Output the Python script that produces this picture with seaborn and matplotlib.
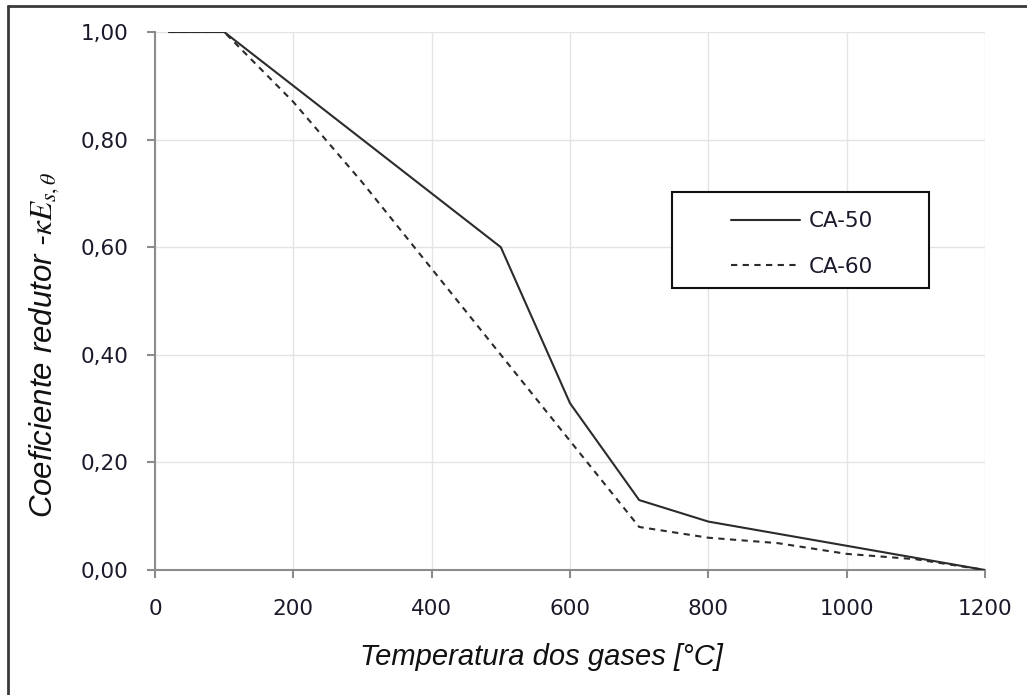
import matplotlib
matplotlib.use("Agg")
import matplotlib.pyplot as plt
import seaborn as sns
import pandas as pd
from matplotlib.lines import Line2D
from matplotlib.patches import Rectangle

# Reduction factor of the modulus of elasticity of reinforcing steel vs temperature
temperatura = [20, 100, 200, 300, 400, 500, 600, 700, 800, 900, 1000, 1100, 1200]
ca50 = [1.00, 1.00, 0.90, 0.80, 0.70, 0.60, 0.31, 0.13, 0.09, 0.0675, 0.045, 0.0225, 0.00]
ca60 = [1.00, 1.00, 0.87, 0.72, 0.56, 0.40, 0.24, 0.08, 0.06, 0.05, 0.03, 0.02, 0.00]
series_names = ["CA-50", "CA-60"]

x_ticks = [0, 200, 400, 600, 800, 1000, 1200]
y_ticks = [0.0, 0.2, 0.4, 0.6, 0.8, 1.0]
y_tick_labels = ["0,00", "0,20", "0,40", "0,60", "0,80", "1,00"]

df = pd.DataFrame({
    "Temperatura": temperatura * 2,
    "Coeficiente": ca50 + ca60,
    "Aço": [series_names[0]] * len(temperatura) + [series_names[1]] * len(temperatura),
})

sns.set_style("white")
plt.rcParams["font.family"] = ["DejaVu Sans"]
plt.rcParams["mathtext.fontset"] = "stix"

W, H = 1027, 695
fig = plt.figure(figsize=(W / 100, H / 100), dpi=100)
ax = fig.add_axes([155 / W, 1 - 570 / H, (985 - 155) / W, (570 - 32) / H])

line_color = "#2b2b2b"
dash = (3, 2.6)
sns.lineplot(data=df, x="Temperatura", y="Coeficiente", style="Aço",
             dashes={"CA-50": "", "CA-60": dash}, color=line_color,
             linewidth=1.5, ax=ax, legend=False)

ax.set_xlim(0, 1200)
ax.set_ylim(0, 1.0)
ax.set_xticks(x_ticks)
ax.set_xticklabels([str(t) for t in x_ticks])
ax.set_yticks(y_ticks)
ax.set_yticklabels(y_tick_labels)

ax.grid(True, color="#e4e4e4", linewidth=1.0)
ax.set_axisbelow(True)
for side in ["top", "right"]:
    ax.spines[side].set_visible(False)
for side in ["left", "bottom"]:
    ax.spines[side].set_color("#8c8c8c")
    ax.spines[side].set_linewidth(1.5)
    ax.spines[side].set_zorder(1.5)

ax.tick_params(axis="both", which="major", bottom=True, left=True, direction="out",
               length=6, width=1.5, color="#8c8c8c", labelcolor="#1a1a2a",
               labelsize=15.5)
ax.tick_params(axis="y", pad=13)
ax.tick_params(axis="x", pad=15)

ax.set_xlabel("Temperatura dos gases [°C]", family="Liberation Sans", style="italic",
              fontsize=21, color="#111111")
ax.xaxis.set_label_coords((541 - 155) / 830, -(657 - 570) / 538, transform=ax.transAxes)
ax.xaxis.label.set_va("center")
ax.set_ylabel(r"Coeficiente redutor -$\kappa E_{s,\theta}$", family="Liberation Sans",
              style="italic", fontsize=22.5, color="#111111")
ax.yaxis.set_label_coords(-(155 - 44) / 830, (570 - 345) / 538, transform=ax.transAxes)
ax.yaxis.label.set_va("center")

# legend box
bx0 = (672 - 155) / 830
by0 = (570 - 288) / 538
bw = (929 - 672) / 830
bh = (288 - 192) / 538
ax.add_patch(Rectangle((bx0, by0), bw, bh, transform=ax.transAxes, facecolor="white",
                       edgecolor="#111111", linewidth=1.5, zorder=5))
handles = [Line2D([], [], color=line_color, linewidth=1.5, linestyle="-"),
           Line2D([], [], color=line_color, linewidth=1.5, linestyle=(0, dash))]
leg = ax.legend(handles, series_names, loc="center",
                bbox_to_anchor=(bx0 + 0.002, by0 - 4 / 538, bw, bh),
                frameon=False, fontsize=15.5, handlelength=3.2, handletextpad=0.4,
                labelspacing=1.2, borderpad=0, borderaxespad=0)
leg.set_zorder(6)
for t in leg.get_texts():
    t.set_color("#1a1a2a")

# outer frame around the chart area
fig.add_artist(Line2D([8 / W, 8 / W], [0, 1 - 6 / H], transform=fig.transFigure,
                      color="#3a3a3a", linewidth=2))
fig.add_artist(Line2D([8 / W, 1], [1 - 6 / H, 1 - 6 / H], transform=fig.transFigure,
                      color="#3a3a3a", linewidth=2))

fig.savefig("out.png", dpi=100)
